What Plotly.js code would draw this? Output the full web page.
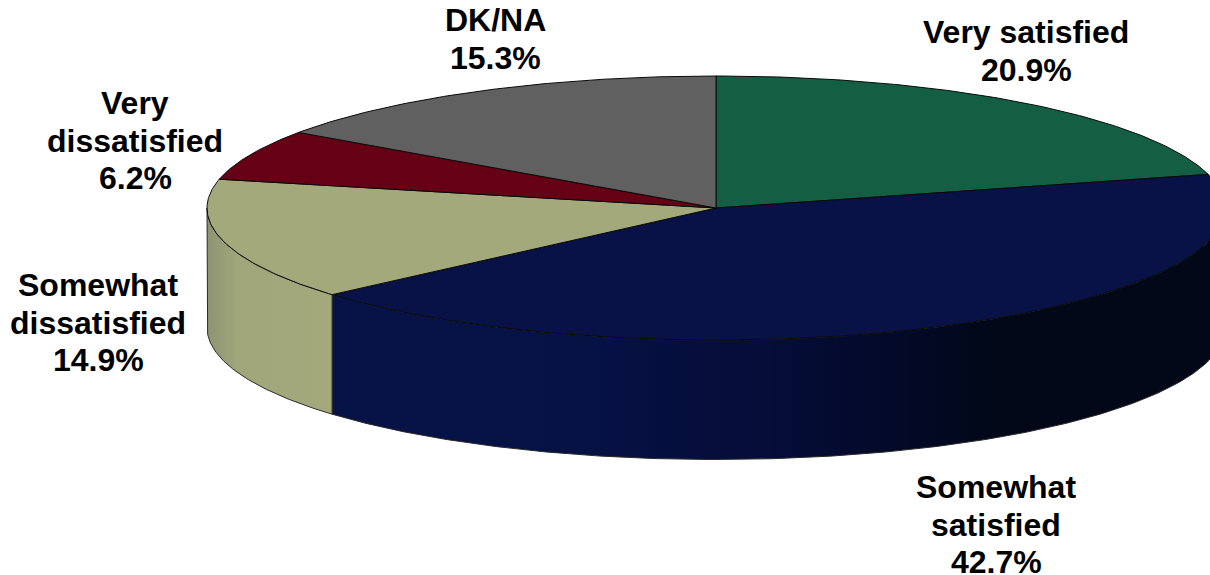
<!DOCTYPE html>
<html>
<head>
<meta charset="utf-8">
<script src="https://cdn.plot.ly/plotly-3.0.1.min.js"></script>
<style>html,body{margin:0;padding:0;background:#fff}#chart{width:1210px;height:575px}</style>
</head>
<body>
<div id="chart"></div>
<script>
// Data, in drawing order: clockwise from twelve o'clock
const categories = ['Very satisfied', 'Somewhat satisfied', 'Somewhat dissatisfied', 'Very dissatisfied', 'DK/NA'];
const values = [20.9, 42.7, 14.9, 6.2, 15.3];
const labelLines = [['Very satisfied'], ['Somewhat', 'satisfied'], ['Somewhat', 'dissatisfied'], ['Very', 'dissatisfied'], ['DK/NA']];

// Styles
const topColors = ['#145f44', '#081247', '#a3a97b', '#660015', '#606060'];
const edgeColor = '#0a0a0a';
// Layout geometry (pixel-like axis units)
const cx = 716, cy = 208, rx = 509, ry = 132, depth = 119.5;
const labelX = [1026, 996, 98, 135, 495];
const labelY = [32, 487, 285, 103, 20];
const lineGap = 37.5;
// Side-wall shading, as [position along x, colour]
const wallShades = {
  1: {start: 330, stop: 1210, stops: [[0, '#071247'], [0.3, '#061144'], [0.5, '#050d38'], [0.64, '#030928'], [0.76, '#020818'], [1, '#020818']]},
  2: {start: 207, stop: 330, stops: [[0, '#8e9472'], [0.25, '#a0a67a'], [1, '#a3a97b']]}
};

const total = values.reduce((a, b) => a + b, 0);
const px = t => cx + rx * Math.sin(t);
const py = t => cy - ry * Math.cos(t);
const angle = share => share / total * 2 * Math.PI;

function arc(t0, t1) {
  const n = Math.max(2, Math.ceil(Math.abs(t1 - t0) / 0.01));
  const xs = [], ys = [];
  for (let i = 0; i <= n; i++) {
    const t = t0 + (t1 - t0) * i / n;
    xs.push(px(t)); ys.push(py(t));
  }
  return {xs, ys};
}

const traces = [];
let acc = 0;
const sweeps = values.map(v => { const s = [angle(acc), angle(acc + v)]; acc += v; return s; });

// Side walls: only the front half (90 to 270 degrees) is visible
sweeps.forEach((s, i) => {
  const a = Math.max(s[0], Math.PI / 2), b = Math.min(s[1], 3 * Math.PI / 2);
  if (a >= b) return;
  const top = arc(a, b), bot = arc(b, a);
  const shade = wallShades[i];
  traces.push({
    type: 'scatter', mode: 'lines', fill: 'toself', hoverinfo: 'skip', showlegend: false,
    x: top.xs.concat(bot.xs, [top.xs[0]]),
    y: top.ys.concat(bot.ys.map(y => y + depth), [top.ys[0]]),
    fillcolor: topColors[i],
    fillgradient: {type: 'horizontal', start: shade.start, stop: shade.stop, colorscale: shade.stops},
    line: {color: '#2a2a2a', width: 1}
  });
});

// Top faces
sweeps.forEach((s, i) => {
  const e = arc(s[0], s[1]);
  traces.push({
    type: 'scatter', mode: 'lines', fill: 'toself', hoverinfo: 'skip', showlegend: false,
    name: categories[i],
    x: [cx].concat(e.xs, [cx]), y: [cy].concat(e.ys, [cy]),
    fillcolor: topColors[i],
    line: {color: edgeColor, width: 1}
  });
});

const annotations = [];
labelLines.forEach((lines, i) => {
  lines.concat([values[i].toFixed(1) + '%']).forEach((text, j) => {
    annotations.push({
      x: labelX[i], y: labelY[i] + j * lineGap, xref: 'x', yref: 'y',
      text, showarrow: false, xanchor: 'center', yanchor: 'middle', borderpad: 0,
      font: {family: '"Liberation Sans", Arial, sans-serif', size: 32, weight: 700, color: '#000'}
    });
  });
});

Plotly.newPlot('chart', traces, {
  width: 1210, height: 575,
  margin: {l: 0, r: 0, t: 0, b: 0},
  paper_bgcolor: '#fff', plot_bgcolor: '#fff',
  showlegend: false,
  xaxis: {range: [0, 1210], visible: false, fixedrange: true},
  yaxis: {range: [575, 0], visible: false, fixedrange: true},
  annotations
}, {displayModeBar: false, staticPlot: true});
</script>
</body>
</html>
